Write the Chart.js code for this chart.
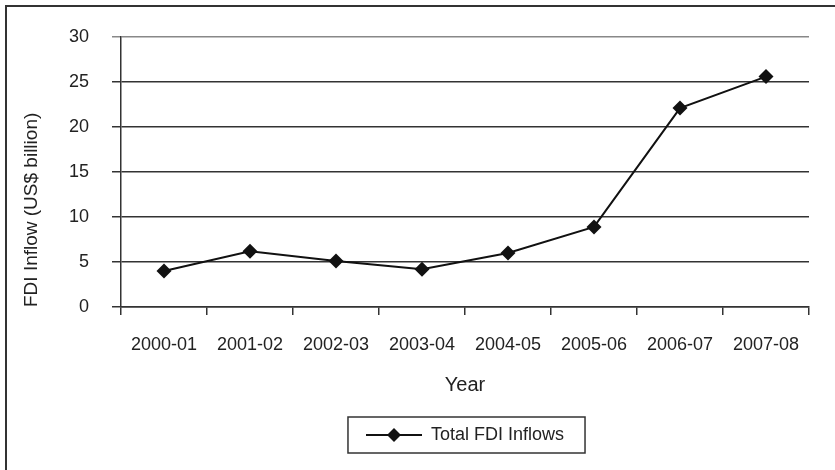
<!DOCTYPE html>
<html>
<head>
<meta charset="utf-8">
<script src="https://cdn.jsdelivr.net/npm/chart.js@4/dist/chart.umd.min.js"></script>
<style>
    html, body { margin: 0; padding: 0; background: #fff; }
    #wrap { position: relative; width: 835px; height: 470px; overflow: hidden; }
    #frame {
        position: absolute; left: 5px; top: 5px; width: 900px; height: 500px;
        border-left: 2px solid #333; border-top: 2px solid #333;
    }
    canvas { position: absolute; left: 0; top: 0; }
</style>
</head>
<body>
<div id="wrap">
    <div id="frame"></div>
    <canvas id="fdiChart" width="835" height="470"></canvas>
</div>
<script>
// ===== DATA =====
const years = ['2000-01', '2001-02', '2002-03', '2003-04', '2004-05', '2005-06', '2006-07', '2007-08'];
const fdiInflows = [4.0, 6.2, 5.1, 4.2, 6.0, 8.9, 22.1, 25.6];
const yTicks = [0, 5, 10, 15, 20, 25, 30];

const FONT = "'Liberation Sans', Arial, sans-serif";
const INK = '#222';

// legend sample: line with a diamond in the middle
function legendSample() {
    const c = document.createElement('canvas');
    c.width = 56;
    c.height = 16;
    const g = c.getContext('2d');
    g.strokeStyle = '#111';
    g.lineWidth = 2;
    g.beginPath();
    g.moveTo(0, 8);
    g.lineTo(56, 8);
    g.stroke();
    g.fillStyle = '#111';
    g.beginPath();
    g.moveTo(28 - 7, 8);
    g.lineTo(28, 1);
    g.lineTo(28 + 7, 8);
    g.lineTo(28, 15);
    g.closePath();
    g.fill();
    return c;
}

// box round the legend
const legendFrame = {
    id: 'legendFrame',
    afterDraw(chart) {
        const box = chart.legend && chart.legend.legendHitBoxes && chart.legend.legendHitBoxes[0];
        if (!box) return;
        const ctx = chart.ctx;
        ctx.save();
        ctx.strokeStyle = '#333';
        ctx.lineWidth = 1.5;
        ctx.strokeRect(box.left - 18, box.top + box.height / 2 - 18, box.width + 39, 36);
        ctx.restore();
    }
};

const ctx = document.getElementById('fdiChart');
const chart = new Chart(ctx, {
    type: 'line',
    data: {
        labels: years,
        datasets: [{
            label: 'Total FDI Inflows',
            data: fdiInflows,
            borderColor: '#111',
            backgroundColor: '#111',
            borderWidth: 2,
            tension: 0,
            fill: false,
            pointStyle: 'rectRot',
            pointRadius: 7.5,
            pointHoverRadius: 7.5,
            pointBackgroundColor: '#111',
            pointBorderColor: '#111',
            pointBorderWidth: 0
        }]
    },
    options: {
        responsive: false,
        animation: false,
        layout: {
            padding: { top: 37, right: 26, bottom: 16, left: 0 }
        },
        plugins: {
            legend: {
                position: 'bottom',
                fullSize: false,
                labels: {
                    usePointStyle: true,
                    pointStyle: legendSample(),
                    pointStyleWidth: 56,
                    color: INK,
                    padding: 14,
                    font: { family: FONT, size: 18 }
                }
            },
            tooltip: { enabled: false }
        },
        scales: {
            x: {
                type: 'category',
                offset: true,
                grid: {
                    offset: true,
                    drawOnChartArea: false,
                    drawTicks: true,
                    tickLength: 8,
                    color: '#333',
                    lineWidth: 1.5
                },
                border: { display: true, color: '#333', width: 1.5 },
                ticks: {
                    color: INK,
                    padding: 19,
                    maxRotation: 0,
                    autoSkip: false,
                    font: { family: FONT, size: 18 }
                },
                title: {
                    display: true,
                    text: 'Year',
                    color: INK,
                    padding: { top: 14, bottom: 15 },
                    font: { family: FONT, size: 20 }
                },
                afterFit: function(scale) {
                    scale.height = 105;
                }
            },
            y: {
                min: 0,
                max: 30,
                afterBuildTicks: function(scale) {
                    scale.ticks = yTicks.map(v => ({ value: v }));
                },
                grid: {
                    drawTicks: true,
                    tickLength: 9,
                    color: function(c) {
                        return c.tick && c.tick.value === 30 ? '#888' : '#333';
                    },
                    lineWidth: 1.5
                },
                border: { display: true, color: '#333', width: 1.5 },
                ticks: {
                    color: INK,
                    padding: 23,
                    font: { family: FONT, size: 18 }
                },
                title: {
                    display: true,
                    text: 'FDI Inflow (US$ billion)',
                    align: 'start',
                    color: INK,
                    padding: { top: 20, bottom: 0 },
                    font: { family: FONT, size: 19 }
                },
                afterFit: function(scale) {
                    scale.width = 121;
                }
            }
        }
    },
    plugins: [legendFrame]
});
</script>
</body>
</html>
